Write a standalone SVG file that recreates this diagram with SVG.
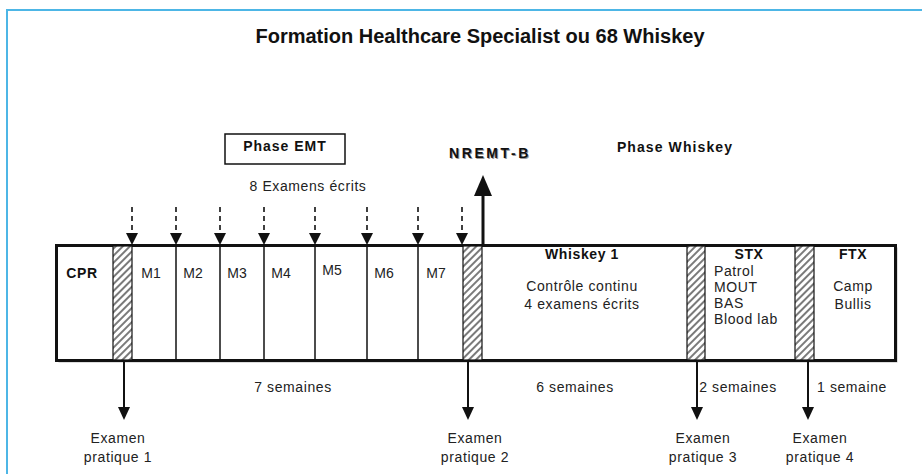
<svg xmlns="http://www.w3.org/2000/svg" width="922" height="474" viewBox="0 0 922 474">
<style>
text{font-family:"Liberation Sans",Arial,sans-serif;fill:#222}
.t{font-size:14px;letter-spacing:0.6px}
.m{font-size:14px}
.b{font-size:14px;font-weight:bold;letter-spacing:0.6px;fill:#111}
.c{text-anchor:middle}
.thin{stroke:#111;stroke-width:1.5;fill:none}
.arr{stroke:#111;stroke-width:2}
.dash{stroke:#111;stroke-width:1.6;stroke-dasharray:5,4}
.hatch{fill:url(#hp);stroke:#111;stroke-width:1.2}
</style>
<defs>
<pattern id="hp" patternUnits="userSpaceOnUse" width="5" height="5" patternTransform="rotate(45)">
<rect width="5" height="5" fill="#fff"/>
<line x1="1" y1="0" x2="1" y2="5" stroke="#222" stroke-width="1.2"/>
</pattern>
</defs>
<rect width="922" height="474" fill="#fff"/>
<path d="M7,480 L7,10 L930,10" fill="none" stroke="#4db6e6" stroke-width="2"/>
<text x="480" y="43" class="c" style="font-size:20px;font-weight:bold;fill:#111">Formation Healthcare Specialist ou 68 Whiskey</text>

<g id="phase-emt">
<rect x="225" y="134" width="120" height="30" fill="#fff" stroke="#111" stroke-width="1.5"/>
<text x="285" y="151" class="b c" style="letter-spacing:1px">Phase EMT</text>
</g>
<text x="308" y="191" class="t c">8 Examens écrits</text>
<g id="nremt-b">
<text x="491" y="159" class="b c" style="letter-spacing:2.6px;fill:#999">NREMT-B</text>
<text x="490" y="158" class="b c" style="letter-spacing:2.6px">NREMT-B</text>
</g>
<text x="675" y="152" class="b c" style="letter-spacing:1.1px">Phase Whiskey</text>

<g id="timeline">
<rect x="58.5" y="247.5" width="839" height="115" fill="#bbb"/>
<rect x="56.5" y="245.5" width="839" height="115" fill="#fff" stroke="#111" stroke-width="3"/>
<g class="thin">
<line x1="176" y1="246" x2="176" y2="360"/>
<line x1="220" y1="246" x2="220" y2="360"/>
<line x1="264" y1="246" x2="264" y2="360"/>
<line x1="315" y1="246" x2="315" y2="360"/>
<line x1="367" y1="246" x2="367" y2="360"/>
<line x1="418" y1="246" x2="418" y2="360"/>
</g>
<rect x="113" y="246" width="19" height="114" class="hatch"/>
<rect x="463" y="246" width="19" height="114" class="hatch"/>
<rect x="687" y="246" width="18" height="114" class="hatch"/>
<rect x="795" y="246" width="19" height="114" class="hatch"/>
</g>

<g id="cpr"><text x="82" y="278" class="b c">CPR</text></g>
<g id="m1"><text x="151" y="278" class="m c">M1</text></g>
<g id="m2"><text x="193" y="278" class="m c">M2</text></g>
<g id="m3"><text x="237" y="278" class="m c">M3</text></g>
<g id="m4"><text x="281" y="278" class="m c">M4</text></g>
<g id="m5"><text x="332" y="275" class="m c">M5</text></g>
<g id="m6"><text x="384" y="278" class="m c">M6</text></g>
<g id="m7"><text x="436" y="278" class="m c">M7</text></g>
<g id="whiskey1">
<text x="582" y="259" class="b c">Whiskey 1</text>
<text x="582" y="291" class="t c">Contrôle continu</text>
<text x="582" y="309" class="t c">4 examens écrits</text>
</g>
<g id="stx">
<text x="749" y="259" class="b c">STX</text>
<text x="714" y="276" class="t">Patrol</text>
<text x="714" y="292" class="t">MOUT</text>
<text x="714" y="308" class="t">BAS</text>
<text x="714" y="324" class="t">Blood lab</text>
</g>
<g id="ftx">
<text x="853" y="259" class="b c">FTX</text>
<text x="853" y="291" class="t c">Camp</text>
<text x="853" y="309" class="t c">Bullis</text>
</g>

<g id="connectors">
<g class="dash">
<line x1="132" y1="207" x2="132" y2="234"/>
<line x1="176" y1="207" x2="176" y2="234"/>
<line x1="220" y1="207" x2="220" y2="234"/>
<line x1="264" y1="207" x2="264" y2="234"/>
<line x1="315" y1="207" x2="315" y2="234"/>
<line x1="367" y1="207" x2="367" y2="234"/>
<line x1="418" y1="207" x2="418" y2="234"/>
<line x1="462" y1="207" x2="462" y2="234"/>
</g>
<g fill="#111">
<path d="M126,233 L138,233 L132,245 z"/>
<path d="M170,233 L182,233 L176,245 z"/>
<path d="M214,233 L226,233 L220,245 z"/>
<path d="M258,233 L270,233 L264,245 z"/>
<path d="M309,233 L321,233 L315,245 z"/>
<path d="M361,233 L373,233 L367,245 z"/>
<path d="M412,233 L424,233 L418,245 z"/>
<path d="M456,233 L468,233 L462,245 z"/>
</g>
<line x1="483" y1="246" x2="483" y2="194" stroke="#111" stroke-width="3"/>
<path d="M474,196 L492,196 L483,175 z" fill="#111"/>
<line x1="124" y1="360" x2="124" y2="408" class="arr"/>
<path d="M118,407 L130,407 L124,420 z" fill="#111"/>
<line x1="468" y1="360" x2="468" y2="408" class="arr"/>
<path d="M462,407 L474,407 L468,420 z" fill="#111"/>
<line x1="697" y1="360" x2="697" y2="408" class="arr"/>
<path d="M691,407 L703,407 L697,420 z" fill="#111"/>
<line x1="808" y1="360" x2="808" y2="408" class="arr"/>
<path d="M802,407 L814,407 L808,420 z" fill="#111"/>
</g>

<text x="293" y="392" class="t c">7 semaines</text>
<text x="575" y="392" class="t c">6 semaines</text>
<text x="738" y="392" class="t c">2 semaines</text>
<text x="852" y="392" class="t c">1 semaine</text>

<g id="exam1"><text x="118" y="443" class="t c">Examen</text><text x="118" y="462" class="t c">pratique 1</text></g>
<g id="exam2"><text x="475" y="443" class="t c">Examen</text><text x="475" y="462" class="t c">pratique 2</text></g>
<g id="exam3"><text x="703" y="443" class="t c">Examen</text><text x="703" y="462" class="t c">pratique 3</text></g>
<g id="exam4"><text x="820" y="443" class="t c">Examen</text><text x="820" y="462" class="t c">pratique 4</text></g>
</svg>
